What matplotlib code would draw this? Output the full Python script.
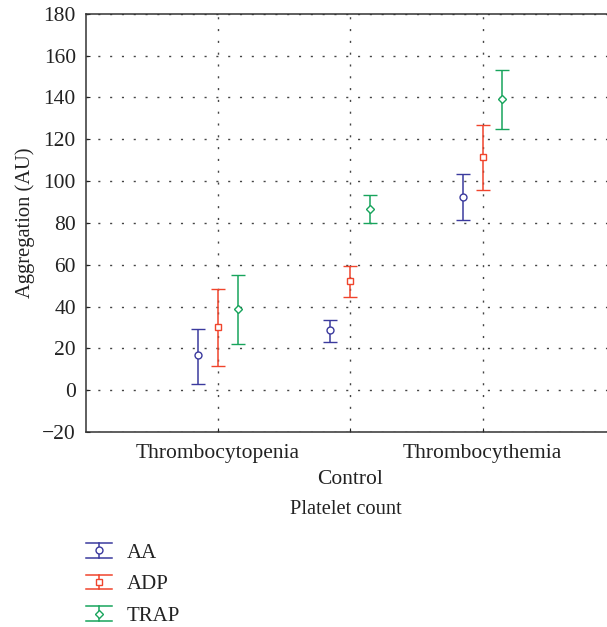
import matplotlib
matplotlib.use("Agg")
import matplotlib.pyplot as plt
from matplotlib.legend_handler import HandlerBase
from matplotlib.lines import Line2D
import numpy as np

plt.rcParams['font.family'] = ['Liberation Serif', 'DejaVu Serif']

categories = ["Thrombocytopenia", "Control", "Thrombocythemia"]
series = ["AA", "ADP", "TRAP"]
means = {
    "AA":   [16.7, 28.8, 92.6],
    "ADP":  [30.2, 52.2, 111.6],
    "TRAP": [38.7, 86.7, 139.2],
}
upper = {
    "AA":   [29.4, 33.6, 103.6],
    "ADP":  [48.6, 59.6, 126.9],
    "TRAP": [55.1, 93.5, 152.9],
}
lower = {
    "AA":   [3.1, 23.1, 81.3],
    "ADP":  [11.4, 44.6, 95.5],
    "TRAP": [22.1, 80.1, 125.1],
}
colors = {"AA": "#3b3a9e", "ADP": "#f0442c", "TRAP": "#18a45c"}
markers = {"AA": "o", "ADP": "s", "TRAP": "D"}
msizes = {"AA": 5, "ADP": 5, "TRAP": 4}
offsets = {"AA": -0.15, "ADP": 0.0, "TRAP": 0.15}

fig = plt.figure(figsize=(6.07, 6.27), dpi=100)
ax = fig.add_axes([0.141, 0.311, 0.859, 0.667])

x = np.arange(1, len(categories) + 1)
for s in series:
    m = np.array(means[s]); u = np.array(upper[s]); l = np.array(lower[s])
    ax.errorbar(x + offsets[s], m, yerr=[m - l, u - m], fmt=markers[s],
                color=colors[s], mfc="white", mec=colors[s], ms=msizes[s],
                mew=1.0, elinewidth=1.1, capsize=4.7, capthick=1.1, zorder=3)

ax.set_xlim(0, 3.94)
ax.set_ylim(-20, 180)
ax.set_yticks(np.arange(-20, 181, 20))
ax.set_xticks(x)
ax.set_xticklabels(categories)
ax.grid(True, linestyle=(0, (1.5, 7)), color="#444444", linewidth=1.0)
ax.tick_params(direction="in", length=3, labelsize=15.5, colors="#222222",
               width=0.8)
ax.tick_params(axis="y", pad=7)
ax.tick_params(axis="x", pad=8.5)
ax.xaxis.get_major_ticks()[1].set_pad(27.5)
for sp in ax.spines.values():
    sp.set_color("#333333")
    sp.set_linewidth(1.1)
ax.spines["right"].set_visible(False)

ax.set_ylabel("Aggregation (AU)", fontsize=14.8, color="#222222", labelpad=5)
ax.set_xlabel("Platelet count", fontsize=14.8, color="#222222", labelpad=8)


class ErrHandler(HandlerBase):
    def __init__(self, color, marker, ms):
        super().__init__()
        self.c = color; self.m = marker; self.ms = ms

    def create_artists(self, legend, orig_handle, xdescent, ydescent,
                       width, height, fontsize, trans):
        h = height * 1.0
        y0 = height / 2 - h / 2 - ydescent
        y1 = height / 2 + h / 2 - ydescent
        xm = width / 2 - xdescent
        arts = [
            Line2D([-xdescent, width - xdescent], [y0, y0], color=self.c, lw=1.1),
            Line2D([-xdescent, width - xdescent], [y1, y1], color=self.c, lw=1.1),
            Line2D([xm, xm], [y0, y1], color=self.c, lw=1.1),
            Line2D([xm], [(y0 + y1) / 2], marker=self.m, color=self.c,
                   mfc="white", mec=self.c, ms=self.ms, mew=1.0, ls="none"),
        ]
        for a in arts:
            a.set_transform(trans)
        return arts


handles = [Line2D([], [], color=colors[s]) for s in series]
hmap = {h: ErrHandler(colors[s], markers[s], msizes[s]) for h, s in zip(handles, series)}
fig.legend(handles, series, handler_map=hmap, loc="upper left",
           bbox_to_anchor=(0.111, 0.164), frameon=False, fontsize=15,
           handlelength=1.25, handletextpad=0.68, labelspacing=0.58,
           labelcolor="#222222")

fig.savefig("out.png", dpi=100)
